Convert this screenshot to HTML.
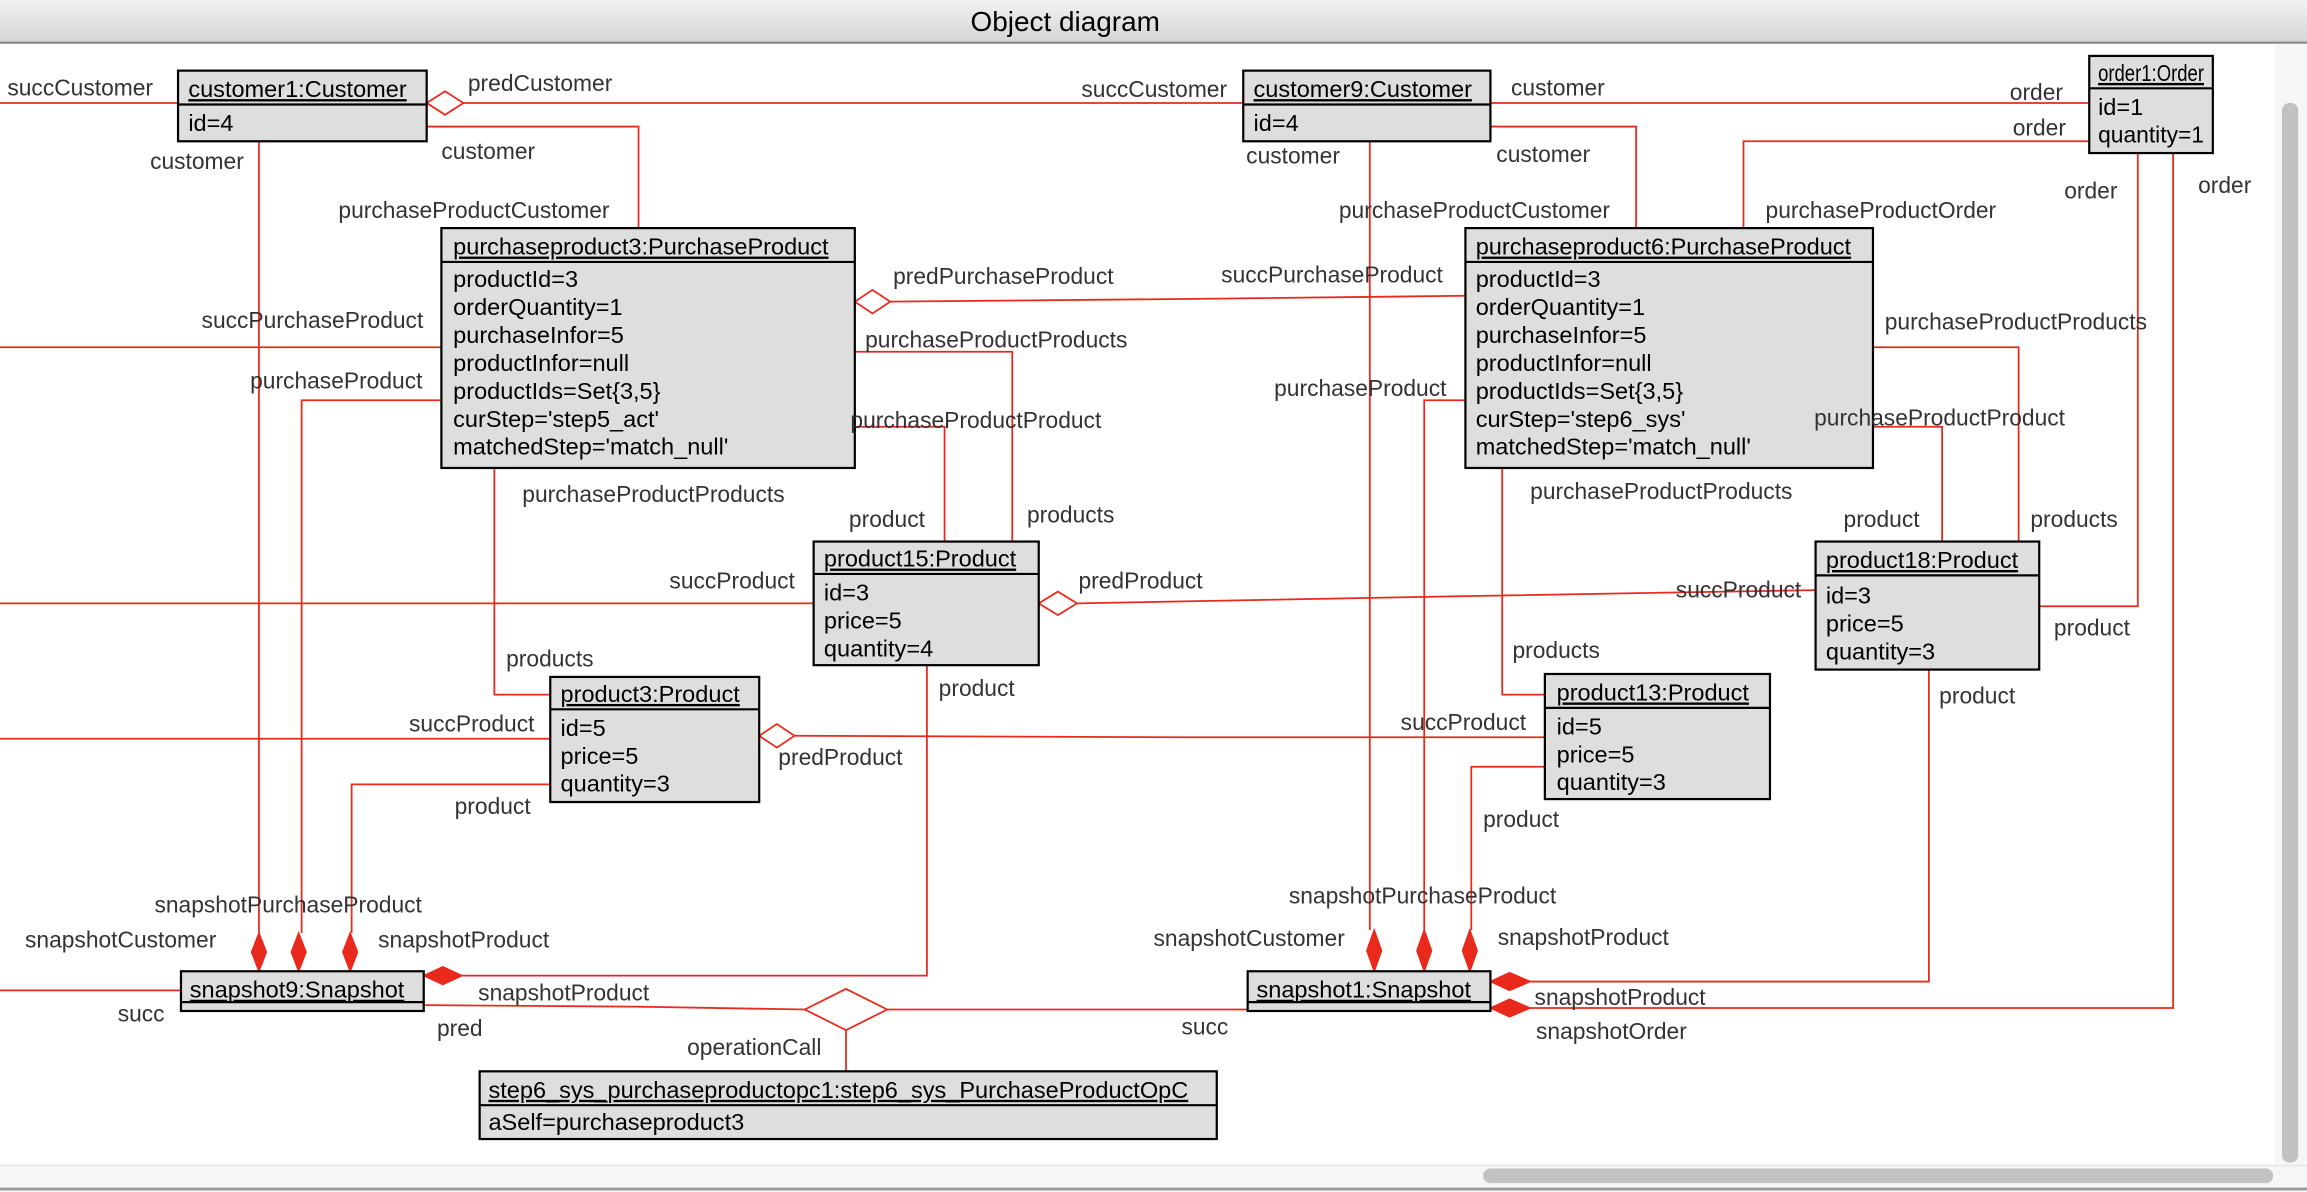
<!DOCTYPE html>
<html><head><meta charset="utf-8"><style>
html,body{margin:0;padding:0;background:#fff;overflow:hidden}
svg{display:block}
text{font-family:"Liberation Sans","DejaVu Sans",sans-serif}
.l{font-size:15.5px;fill:#333}
.b{font-size:16px;fill:#000}
.bx{fill:#dedede;stroke:#000;stroke-width:1.5}
.e{stroke:#e8291c;stroke-width:1.2;fill:none}
.hd{fill:#fff;stroke:#e8291c;stroke-width:1.2}
.fd{fill:#e8291c;stroke:#e8291c}
</style></head><body>
<svg width="2307" height="1192" viewBox="0 0 1568 810" preserveAspectRatio="none" xmlns="http://www.w3.org/2000/svg">
<defs><linearGradient id="tg" x1="0" y1="0" x2="0" y2="1"><stop offset="0" stop-color="#f2f2f2"/><stop offset="1" stop-color="#d4d4d4"/></linearGradient></defs>
<rect x="0" y="0" width="1568" height="810" fill="#fff"/>
<rect x="0" y="0" width="1568" height="29" fill="url(#tg)"/>
<line x1="0" y1="29" x2="1568" y2="29" stroke="#888" stroke-width="1.5"/>
<text x="724" y="21" text-anchor="middle" style="font-size:19px;fill:#000">Object diagram</text>
<rect x="1546" y="30" width="22" height="763" fill="#f6f6f6"/>
<rect x="1551" y="70" width="11" height="720" rx="5" fill="#c2c2c2"/>
<rect x="0" y="792" width="1568" height="18" fill="#f6f6f6"/>
<line x1="0" y1="792" x2="1568" y2="792" stroke="#e4e4e4"/>
<rect x="1008" y="794" width="537" height="10" rx="5" fill="#c2c2c2"/>
<line x1="0" y1="808" x2="1568" y2="808" stroke="#999" stroke-width="2"/>

<g class="e">
<path d="M0 70H121"/>
<path d="M315 70H845"/>
<path d="M1013 70H1420"/>
<path d="M290 86H434V155"/>
<path d="M176 96V634"/>
<path d="M1013 86H1112V155"/>
<path d="M931 96V632"/>
<path d="M1420 96H1185V155"/>
<path d="M1453 104V412H1386"/>
<path d="M1477 104V685H1040"/>
<path d="M0 236H300"/>
<path d="M605 205L820 203L996 201"/>
<path d="M300 272H205V634"/>
<path d="M581 239H688V368"/>
<path d="M581 290H642V368"/>
<path d="M336 318V472H374"/>
<path d="M996 272H968V632"/>
<path d="M1273 236H1372V368"/>
<path d="M1273 290H1320V368"/>
<path d="M1021 318V472H1050"/>
<path d="M0 410H553"/>
<path d="M732 410L1000 405L1234 401"/>
<path d="M630 452V663H314"/>
<path d="M0 502H374"/>
<path d="M540 500L800 501H1050"/>
<path d="M374 533H239V634"/>
<path d="M1050 521H1000V632"/>
<path d="M1311 455V667H1040"/>
<path d="M0 673H123"/>
<path d="M288 683L430 684L547 686"/>
<path d="M603 686H848"/>
<path d="M575 699V728"/>
</g>
<path class="hd" d="M290 70L302.5 62L315 70L302.5 78Z"/>
<path class="hd" d="M581 205L593 197L605 205L593 213Z"/>
<path class="hd" d="M706 410L719 402L732 410L719 418Z"/>
<path class="hd" d="M516 500L528 492L540 500L528 508Z"/>
<path class="hd" d="M547 686L575 672L603 686L575 700Z"/>
<g class="fd">
<path d="M176 634L181 647L176 660L171 647Z"/>
<path d="M203 634L208 647L203 660L198 647Z"/>
<path d="M238 634L243 647L238 660L233 647Z"/>
<path d="M934 632L939 646L934 660L929 646Z"/>
<path d="M968 632L973 646L968 660L963 646Z"/>
<path d="M999 632L1004 646L999 660L994 646Z"/>
<path d="M288 663L301 657L314 663L301 669Z"/>
<path d="M1013 667L1026 661L1040 667L1026 673Z"/>
<path d="M1013 685L1026 679L1040 685L1026 691Z"/>
</g>

<g>
<rect class="bx" x="121" y="48" width="169" height="48"/><line x1="121" y1="71" x2="290" y2="71" stroke="#000" stroke-width="1.5"/>
<text class="b" x="128" y="66" text-decoration="underline">customer1:Customer</text><text class="b" x="128" y="89">id=4</text>

<rect class="bx" x="845" y="48" width="168" height="48"/><line x1="845" y1="71" x2="1013" y2="71" stroke="#000" stroke-width="1.5"/>
<text class="b" x="852" y="66" text-decoration="underline">customer9:Customer</text><text class="b" x="852" y="89">id=4</text>

<rect class="bx" x="1420" y="38" width="84" height="66"/><line x1="1420" y1="60" x2="1504" y2="60" stroke="#000" stroke-width="1.5"/>
<text class="b" x="1426" y="55" text-decoration="underline" textLength="72" lengthAdjust="spacingAndGlyphs">order1:Order</text><text class="b" x="1426" y="78">id=1</text><text class="b" x="1426" y="97" textLength="72" lengthAdjust="spacingAndGlyphs">quantity=1</text>

<rect class="bx" x="300" y="155" width="281" height="163"/><line x1="300" y1="178" x2="581" y2="178" stroke="#000" stroke-width="1.5"/>
<text class="b" x="308" y="173" text-decoration="underline">purchaseproduct3:PurchaseProduct</text>
<text class="b" x="308" y="195">productId=3</text><text class="b" x="308" y="214">orderQuantity=1</text><text class="b" x="308" y="233">purchaseInfor=5</text><text class="b" x="308" y="252">productInfor=null</text><text class="b" x="308" y="271">productIds=Set{3,5}</text><text class="b" x="308" y="290">curStep='step5_act'</text><text class="b" x="308" y="309">matchedStep='match_null'</text>

<rect class="bx" x="996" y="155" width="277" height="163"/><line x1="996" y1="178" x2="1273" y2="178" stroke="#000" stroke-width="1.5"/>
<text class="b" x="1003" y="173" text-decoration="underline">purchaseproduct6:PurchaseProduct</text>
<text class="b" x="1003" y="195">productId=3</text><text class="b" x="1003" y="214">orderQuantity=1</text><text class="b" x="1003" y="233">purchaseInfor=5</text><text class="b" x="1003" y="252">productInfor=null</text><text class="b" x="1003" y="271">productIds=Set{3,5}</text><text class="b" x="1003" y="290">curStep='step6_sys'</text><text class="b" x="1003" y="309">matchedStep='match_null'</text>

<rect class="bx" x="553" y="368" width="153" height="84"/><line x1="553" y1="390" x2="706" y2="390" stroke="#000" stroke-width="1.5"/>
<text class="b" x="560" y="385" text-decoration="underline">product15:Product</text><text class="b" x="560" y="408">id=3</text><text class="b" x="560" y="427">price=5</text><text class="b" x="560" y="446">quantity=4</text>

<rect class="bx" x="1234" y="368" width="152" height="87"/><line x1="1234" y1="391" x2="1386" y2="391" stroke="#000" stroke-width="1.5"/>
<text class="b" x="1241" y="386" text-decoration="underline">product18:Product</text><text class="b" x="1241" y="410">id=3</text><text class="b" x="1241" y="429">price=5</text><text class="b" x="1241" y="448">quantity=3</text>

<rect class="bx" x="374" y="460" width="142" height="85"/><line x1="374" y1="482" x2="516" y2="482" stroke="#000" stroke-width="1.5"/>
<text class="b" x="381" y="477" text-decoration="underline">product3:Product</text><text class="b" x="381" y="500">id=5</text><text class="b" x="381" y="519">price=5</text><text class="b" x="381" y="538">quantity=3</text>

<rect class="bx" x="1050" y="458" width="153" height="85"/><line x1="1050" y1="481" x2="1203" y2="481" stroke="#000" stroke-width="1.5"/>
<text class="b" x="1058" y="476" text-decoration="underline">product13:Product</text><text class="b" x="1058" y="499">id=5</text><text class="b" x="1058" y="518">price=5</text><text class="b" x="1058" y="537">quantity=3</text>

<rect class="bx" x="123" y="660" width="165" height="27"/><line x1="123" y1="681" x2="288" y2="681" stroke="#000" stroke-width="1.5"/>
<text class="b" x="129" y="678" text-decoration="underline">snapshot9:Snapshot</text>

<rect class="bx" x="848" y="660" width="165" height="27"/><line x1="848" y1="681" x2="1013" y2="681" stroke="#000" stroke-width="1.5"/>
<text class="b" x="854" y="678" text-decoration="underline">snapshot1:Snapshot</text>

<rect class="bx" x="326" y="728" width="501" height="46"/><line x1="326" y1="751" x2="827" y2="751" stroke="#000" stroke-width="1.5"/>
<text class="b" x="332" y="746" text-decoration="underline">step6_sys_purchaseproductopc1:step6_sys_PurchaseProductOpC</text><text class="b" x="332" y="768">aSelf=purchaseproduct3</text>
</g>

<g class="l">
<text x="5" y="65">succCustomer</text>
<text x="318" y="62">predCustomer</text>
<text x="735" y="66">succCustomer</text>
<text x="1027" y="65">customer</text>
<text x="1366" y="68">order</text>
<text x="1368" y="92">order</text>
<text x="300" y="108">customer</text>
<text x="102" y="115">customer</text>
<text x="230" y="148">purchaseProductCustomer</text>
<text x="1017" y="110">customer</text>
<text x="847" y="111">customer</text>
<text x="910" y="148">purchaseProductCustomer</text>
<text x="1200" y="148">purchaseProductOrder</text>
<text x="1403" y="135">order</text>
<text x="1494" y="131">order</text>
<text x="137" y="223">succPurchaseProduct</text>
<text x="607" y="193">predPurchaseProduct</text>
<text x="830" y="192">succPurchaseProduct</text>
<text x="170" y="264">purchaseProduct</text>
<text x="588" y="236">purchaseProductProducts</text>
<text x="578" y="291">purchaseProductProduct</text>
<text x="355" y="341">purchaseProductProducts</text>
<text x="698" y="355">products</text>
<text x="577" y="358">product</text>
<text x="866" y="269">purchaseProduct</text>
<text x="1281" y="224">purchaseProductProducts</text>
<text x="1233" y="289">purchaseProductProduct</text>
<text x="1040" y="339">purchaseProductProducts</text>
<text x="1380" y="358">products</text>
<text x="1253" y="358">product</text>
<text x="455" y="400">succProduct</text>
<text x="733" y="400">predProduct</text>
<text x="1139" y="406">succProduct</text>
<text x="1396" y="432">product</text>
<text x="344" y="453">products</text>
<text x="1028" y="447">products</text>
<text x="638" y="473">product</text>
<text x="1318" y="478">product</text>
<text x="278" y="497">succProduct</text>
<text x="529" y="520">predProduct</text>
<text x="952" y="496">succProduct</text>
<text x="309" y="553">product</text>
<text x="1008" y="562">product</text>
<text x="105" y="620">snapshotPurchaseProduct</text>
<text x="17" y="644">snapshotCustomer</text>
<text x="257" y="644">snapshotProduct</text>
<text x="876" y="614">snapshotPurchaseProduct</text>
<text x="784" y="643">snapshotCustomer</text>
<text x="1018" y="642">snapshotProduct</text>
<text x="325" y="680">snapshotProduct</text>
<text x="1043" y="683">snapshotProduct</text>
<text x="1044" y="706">snapshotOrder</text>
<text x="80" y="694">succ</text>
<text x="297" y="704">pred</text>
<text x="803" y="703">succ</text>
<text x="467" y="717">operationCall</text>
</g>
</svg>
</body></html>
